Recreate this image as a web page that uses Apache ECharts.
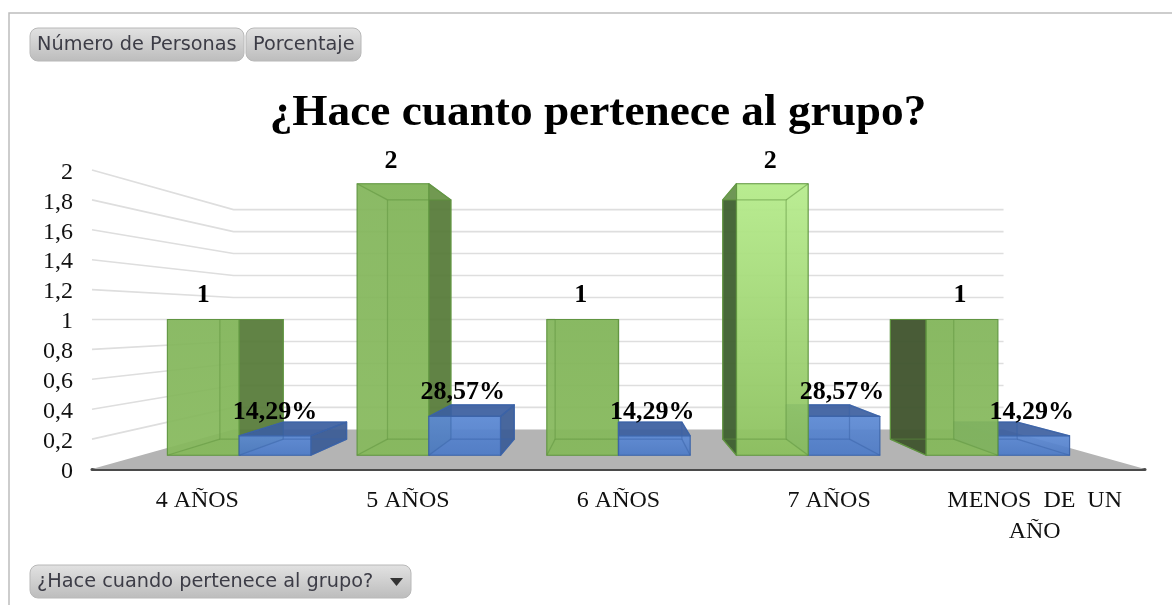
<!DOCTYPE html>
<html><head><meta charset="utf-8">
<style>html,body{margin:0;padding:0;background:#fff}#c{width:1172px;height:605px;filter:blur(0.45px)}</style>
<script src="https://cdn.jsdelivr.net/npm/echarts@6/dist/echarts.min.js"></script>
</head><body><div id="c"></div>
<script>
const titleText = '¿Hace cuanto pertenece al grupo?';
const categories = ['4 AÑOS', '5 AÑOS', '6 AÑOS', '7 AÑOS', 'MENOS  DE  UN\nAÑO'];
const numeroPersonas = [1, 2, 1, 2, 1];
const porcentaje = [14.29, 28.57, 14.29, 28.57, 14.29];
const yTicks = [0, 0.2, 0.4, 0.6, 0.8, 1, 1.2, 1.4, 1.6, 1.8, 2];
const fieldButtons = ['Número de Personas', 'Porcentaje'];
const filterButton = '¿Hace cuando pertenece al grupo?';

const SERIF = '"Liberation Serif","Times New Roman",serif';
const SANS = '"DejaVu Sans",sans-serif';
const S_WALL = 0.735, S_FRONT = 0.908, S_BACK = 0.80, K_FRONT = 0.992, K_BACK = 0.995, BAR_W = 0.378;
const vgrad = (a, b) => ({type: 'linear', x: 0, y: 0, x2: 0, y2: 1, colorStops: [{offset: 0, color: a}, {offset: 1, color: b}]});

function projector(api, params) {
  const cs = params.coordSys;
  const ax = cs.x + cs.width / 2, ay = api.coord([0, 1])[1];
  return (x, y, s, k) => [ax + (x - ax) * s * k, ay + (y - ay) * s];
}

function renderBackdrop(params, api) {
  const cs = params.coordSys, P = projector(api, params);
  const v = api.value(1), y = api.coord([0, v])[1];
  const kids = [];
  if (v > 0) {
    const a = [cs.x, y], b = P(cs.x, y, S_WALL, K_BACK), c = P(cs.x + cs.width, y, S_WALL, K_BACK);
    kids.push({type: 'polyline', z2: 1, silent: true, shape: {points: [a, b, c]}, style: {fill: null, stroke: '#dedede', lineWidth: 1.6}});
  } else {
    const r = cs.x + cs.width;
    kids.push({type: 'polygon', z2: 2, silent: true,
      shape: {points: [[cs.x, y], P(cs.x, y, S_WALL, K_BACK), P(r, y, S_WALL, K_BACK), [r, y]]},
      style: {fill: '#b4b4b4'}});
  }
  return {type: 'group', children: kids};
}

function makeBox(params, api, o) {
  const P = projector(api, params);
  const cat = api.value(0), v = api.value(1);
  const base = api.coord([cat, 0]), band = api.size([1, 0])[0];
  const top = api.coord([cat, v])[1];
  const xl = base[0] + o.from * band, xr = base[0] + o.to * band, y0 = base[1];
  const cs = params.coordSys, ax = cs.x + cs.width / 2;
  const F = (x, y) => P(x, y, S_FRONT, K_FRONT), B = (x, y) => P(x, y, S_BACK, K_BACK);
  const faces = [];
  const order = (cat < 3 ? o.leftOrder : o.rightOrder);
  const face = (pts, fill, opacity, k) => faces.push({type: 'polygon', silent: true, z2: order + k,
    shape: {points: pts}, style: {fill, opacity, stroke: o.edge, lineWidth: 1.2, lineJoin: 'round'}});
  const s = o.style(cat);
  face([F(xl, y0), F(xr, y0), B(xr, y0), B(xl, y0)], s.floor, 0.3, 0);
  face([B(xl, y0), B(xr, y0), B(xr, top), B(xl, top)], s.back, 0.25, 1);
  if (F(xr, y0)[0] < ax - 1) face([F(xr, y0), B(xr, y0), B(xr, top), F(xr, top)], s.sideR, 0.92, 2);
  if (F(xl, y0)[0] > ax + 1) face([F(xl, y0), B(xl, y0), B(xl, top), F(xl, top)], s.sideL, 0.95, 2);
  face([F(xl, top), F(xr, top), B(xr, top), B(xl, top)], s.top, o.topOpacity, 3);
  face([F(xl, y0), F(xr, y0), F(xr, top), F(xl, top)], s.front, 0.93, 4);
  const wire = pts => faces.push({type: 'polyline', silent: true, z2: order + 5,
    shape: {points: pts}, style: {fill: null, stroke: o.edge, opacity: 0.5, lineWidth: 1.2}});
  wire([B(xl, top), B(xr, top), B(xr, y0), B(xl, y0), B(xl, top)]);
  wire([F(xl, top), B(xl, top)]);
  wire([F(xr, top), B(xr, top)]);
  wire([F(xl, y0), B(xl, y0)]);
  wire([F(xr, y0), B(xr, y0)]);
  const lp = F((xl + xr) / 2, top);
  faces.push({type: 'text', silent: true, z2: 100,
    x: lp[0] - (cat > 0 ? 2 : 0), y: lp[1] - 24 + (v > 1.5 ? 2 : 0),
    style: {text: o.label(params.dataIndex), fill: '#000', font: 'bold ' + o.fontSize + 'px ' + SERIF, textAlign: 'center', textVerticalAlign: 'middle'}});
  return {type: 'group', children: faces};
}

const greenStyle = cat => cat === 3
  ? {front: vgrad('#b6ec8c', '#8cc05e'), back: '#a2d77a', floor: '#6fa24b', top: '#a9df80', sideR: '#55753c', sideL: '#3f6030'}
  : {front: vgrad('#82b55a', '#86b95c'), back: '#7cae55', floor: '#6d9f49', top: '#86b95e', sideR: '#567938', sideL: cat === 4 ? '#40542e' : '#3f6030'};
const blueStyle = cat => ({front: vgrad('#5d8ad4', '#4e7bc6'), back: '#4a72b8', floor: '#4a74bd', top: '#3d5f9f', sideR: '#3c5c96', sideL: '#3c5c96'});

const renderGreen = (p, a) => makeBox(p, a, {from: -BAR_W, to: 0, edge: '#5f9440', style: greenStyle, topOpacity: 0.4,
  leftOrder: 10, rightOrder: 30, fontSize: 26, label: i => String(numeroPersonas[i])});
const renderBlue = (p, a) => makeBox(p, a, {from: 0, to: BAR_W, edge: '#3b63a8', style: blueStyle, topOpacity: 0.92,
  leftOrder: 30, rightOrder: 10, fontSize: 26, label: i => porcentaje[i].toFixed(2).replace('.', ',') + '%'});

function button(x, y, w, h, text, textX) {
  return {type: 'group', silent: true, children: [
    {type: 'rect', shape: {x, y, width: w, height: h, r: 8},
     style: {fill: vgrad('#e2e2e2', '#bcbcbc'), stroke: '#b8b8b8', lineWidth: 1}},
    {type: 'text', x: textX, y: y + h / 2,
     style: {text, fill: '#3c3c46', font: '19.3px ' + SANS, textAlign: 'left', textVerticalAlign: 'middle'}}
  ]};
}

const chart = echarts.init(document.getElementById('c'), null, {renderer: 'canvas'});
chart.setOption({
  animation: false,
  backgroundColor: '#fff',
  title: {text: titleText, left: 593, top: 86, textAlign: 'center',
    textStyle: {fontFamily: SERIF, fontWeight: 'bold', fontSize: 45.3, color: '#000'}},
  grid: {left: 92, right: 27, top: 170, bottom: 136},
  xAxis: {type: 'category', data: categories,
    axisLine: {lineStyle: {color: '#4a4a4a', width: 3}}, axisTick: {show: false},
    axisLabel: {fontFamily: SERIF, fontSize: 24, color: '#111', margin: 16, lineHeight: 31, interval: 0,
      formatter: (v, i) => i === categories.length - 1 ? v.split('\n').map(l => '{s|' + l + '}').join('\n') : v,
      rich: {s: {fontFamily: SERIF, fontSize: 24, color: '#111', lineHeight: 31, padding: [0, 10, 0, 0]}}}},
  yAxis: {type: 'value', min: 0, max: 2, interval: 0.2,
    axisLine: {show: false}, axisTick: {show: false}, splitLine: {show: false},
    axisLabel: {fontFamily: SERIF, fontSize: 24, color: '#111', margin: 19,
      formatter: v => '{t|' + String(+v.toFixed(1)).replace('.', ',') + '}',
      rich: {t: {fontFamily: SERIF, fontSize: 24, color: '#111', padding: [5, 0, 0, 0]}}}},
  graphic: {elements: [
    {type: 'polyline', silent: true, shape: {points: [[9, 605], [9, 13], [1172, 13]]}, style: {fill: null, stroke: '#bdbdbd', lineWidth: 1.5}},
    button(30, 28, 214, 33, fieldButtons[0], 37),
    button(246, 28, 115, 33, fieldButtons[1], 253),
    button(30, 565, 381, 33, filterButton, 37),
    {type: 'polygon', silent: true, shape: {points: [[390, 578], [403, 578], [396.5, 586]]}, style: {fill: '#333'}}
  ]},
  series: [
    {type: 'custom', name: 'fondo', coordinateSystem: 'cartesian2d', renderItem: renderBackdrop,
     data: yTicks.map(v => [0, v]), encode: {x: 0, y: 1}, clip: false, silent: true},
    {type: 'custom', name: 'Número de Personas', coordinateSystem: 'cartesian2d', renderItem: renderGreen,
     data: numeroPersonas.map((v, i) => [i, v]), encode: {x: 0, y: 1}, clip: false, silent: true},
    {type: 'custom', name: 'Porcentaje', coordinateSystem: 'cartesian2d', renderItem: renderBlue,
     data: porcentaje.map((v, i) => [i, v / 100]), encode: {x: 0, y: 1}, clip: false, silent: true}
  ]
});
</script></body></html>
